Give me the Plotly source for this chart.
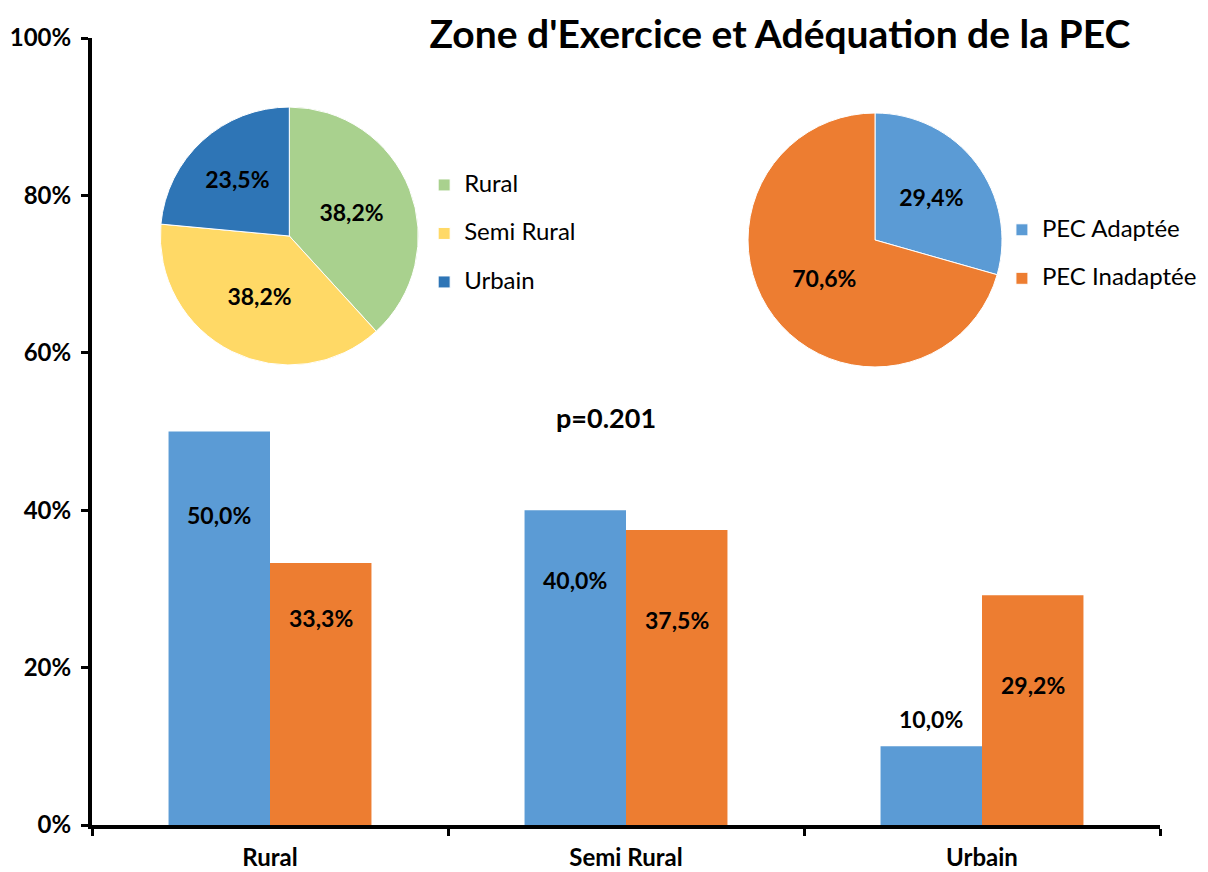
import plotly.graph_objects as go

categories = ["Rural", "Semi Rural", "Urbain"]
pec_adaptee = [0.500, 0.400, 0.100]
pec_inadaptee = [0.333, 0.375, 0.292]
label_adaptee = ["50,0%", "40,0%", "10,0%"]
label_inadaptee = ["33,3%", "37,5%", "29,2%"]
# vertical placement of bar labels (data units)
label_y_adaptee = [0.394, 0.311, 0.135]
label_y_inadaptee = [0.263, 0.260, 0.178]

zone_labels = ["Rural", "Semi Rural", "Urbain"]
zone_values = [13, 13, 8]
zone_text = ["38,2%", "38,2%", "23,5%"]

pec_labels = ["PEC Adaptée", "PEC Inadaptée"]
pec_values = [10, 24]
pec_text = ["29,4%", "70,6%"]

BLUE = "#5B9BD5"
ORANGE = "#ED7D31"
FONT = "Lato"


def leg_label(s):
    return "<span style='font-size:24px'>%s</span><br> " % s


fig = go.Figure()
fig.add_trace(go.Bar(x=categories, y=pec_adaptee, marker_color=BLUE,
                     marker_line_width=0, showlegend=False, hoverinfo="skip"))
fig.add_trace(go.Bar(x=categories, y=pec_inadaptee, marker_color=ORANGE,
                     marker_line_width=0, showlegend=False, hoverinfo="skip"))

for i, c in enumerate(categories):
    fig.add_annotation(x=c, xshift=-51, y=label_y_adaptee[i], text="<b>%s</b>" % label_adaptee[i],
                       showarrow=False, font=dict(family=FONT, size=23, color="black"))
    fig.add_annotation(x=c, xshift=51, y=label_y_inadaptee[i], text="<b>%s</b>" % label_inadaptee[i],
                       showarrow=False, font=dict(family=FONT, size=23, color="black"))

fig.add_trace(go.Pie(labels=[leg_label(l) for l in zone_labels], values=zone_values,
                     text=["<b>%s</b>" % t for t in zone_text], textinfo="text", textposition="inside",
                     insidetextorientation="horizontal",
                     textfont=dict(family=FONT, size=23, color="black"),
                     marker=dict(colors=["#A9D18E", "#FFD966", "#2E75B6"], line=dict(color="white", width=1)),
                     sort=False, direction="clockwise", rotation=0,
                     domain=dict(x=[0.0640, 0.3055], y=[0.5845, 0.9123]),
                     legend="legend", hoverinfo="skip"))
fig.add_trace(go.Pie(labels=[leg_label(l) for l in pec_labels], values=pec_values,
                     text=["<b>%s</b>" % t for t in pec_text], textinfo="text", textposition="inside",
                     insidetextorientation="horizontal",
                     textfont=dict(family=FONT, size=23, color="black"),
                     marker=dict(colors=[BLUE, ORANGE], line=dict(color="white", width=1)),
                     sort=False, direction="clockwise", rotation=0,
                     domain=dict(x=[0.6142, 0.8521], y=[0.5820, 0.9047]),
                     legend="legend2", hoverinfo="skip"))

fig.add_annotation(xref="paper", yref="y", x=0.481, y=0.518, text="<b>p=0.201</b>",
                   showarrow=False, font=dict(family=FONT, size=27, color="black"))

fig.update_layout(
    width=1208, height=872,
    margin=dict(l=84, r=56, t=30, b=55),
    paper_bgcolor="white", plot_bgcolor="white",
    barmode="group", bargap=0.43, bargroupgap=0,
    title=dict(text="<b>Zone d'Exercice et Adéquation de la PEC</b>", x=0.639, xanchor="center",
               y=0.970, yanchor="middle", font=dict(family=FONT, size=39, color="black")),
    font=dict(family=FONT, color="black"),
    legend=dict(x=0.311, y=0.836, xanchor="left", yanchor="top", valign="top",
                font=dict(family=FONT, size=17.5, color="black"), bgcolor="rgba(0,0,0,0)"),
    legend2=dict(x=0.852, y=0.779, xanchor="left", yanchor="top", valign="top",
                 font=dict(family=FONT, size=17.5, color="black"), bgcolor="rgba(0,0,0,0)"),
    xaxis=dict(showline=True, linecolor="black", linewidth=4, ticks="outside", tickson="boundaries",
               ticklen=7, tickwidth=3, tickcolor="black", showgrid=False, ticklabelstandoff=8,
               automargin=False,
               tickfont=dict(family=FONT, size=24, color="black"), tickprefix="<b>", ticksuffix="</b>"),
    yaxis=dict(range=[0, 1], dtick=0.2, tickformat=".0%", showline=True, linecolor="black", linewidth=4,
               ticks="outside", ticklen=7, tickwidth=3, tickcolor="black", showgrid=False, zeroline=False,
               ticklabelstandoff=5, automargin=False,
               tickfont=dict(family=FONT, size=24, color="black"), tickprefix="<b>", ticksuffix="</b>"),
)

fig.write_html("out.html")
